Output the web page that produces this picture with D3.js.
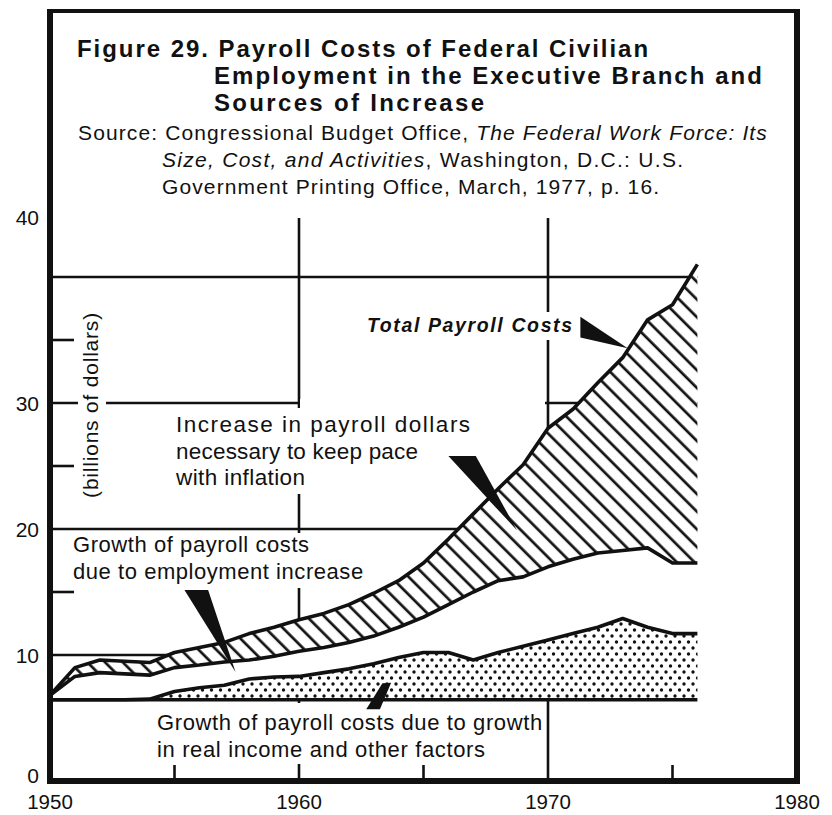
<!DOCTYPE html>
<html>
<head>
<meta charset="utf-8">
<script src="https://cdn.jsdelivr.net/npm/d3@7"></script>
<style>
  html, body { margin: 0; padding: 0; background: #fff; }
  svg { display: block; }
  text { font-family: 'Liberation Sans', Arial, Helvetica, sans-serif; fill: #111; }
</style>
</head>
<body>
<script>
// Payroll costs of federal civilian employment, executive branch (billions of dollars)
const years = d3.range(1950, 1977);
// top line: total payroll costs
const totalPayroll = [6.8, 9.0, 9.6, 9.5, 9.4, 10.2, 10.6, 11.0, 11.7, 12.2, 12.8, 13.3, 14.0, 14.9, 15.9,
    17.3, 19.2, 21.2, 23.2, 25.1, 28.0, 29.5, 31.6, 33.6, 36.6, 37.8, 41.0];
// lower edge of the inflation band (total less the inflation increase)
const withoutInflation = [6.8, 8.3, 8.6, 8.5, 8.4, 9.0, 9.2, 9.45, 9.6, 9.9, 10.3, 10.6, 11.0, 11.5, 12.2,
    13.0, 14.0, 15.0, 15.9, 16.2, 17.0, 17.6, 18.1, 18.3, 18.5, 17.3, 17.3];
// 1950 level plus growth due to real income and other factors
const realIncomeLevel = [6.45, 6.45, 6.45, 6.45, 6.5, 7.1, 7.4, 7.6, 8.1, 8.25, 8.3, 8.6, 8.9, 9.3, 9.8,
    10.2, 10.2, 9.6, 10.2, 10.7, 11.2, 11.7, 12.2, 12.9, 12.2, 11.7, 11.7];
const baseLevel = 6.45;

const yTickValues = [0, 10, 20, 30];
const yTopLabel = '40';
const xTickValues = [1950, 1960, 1970, 1980];
const xMinorTicks = [1955, 1965, 1975];
const yMinorTicks = [15, 25, 35];
const gridValues = [10, 20, 30, 40];
const gridYears = [1960, 1970];

const rows = years.map((year, i) => ({
    year,
    total: totalPayroll[i],
    lower: withoutInflation[i],
    real: realIncomeLevel[i]
}));

const W = 832, H = 815;
const plotTop = 218;
const x = d3.scaleLinear().domain([1950, 1980]).range([50, 797]);
const y = d3.scaleLinear().domain([0, 40]).range([781, 277]);

const svg = d3.select('body').append('svg')
    .attr('width', W)
    .attr('height', H);

svg.append('rect').attr('width', W).attr('height', H).attr('fill', '#fff');

const defs = svg.append('defs');
defs.append('pattern')
    .attr('id', 'hatch')
    .attr('patternUnits', 'userSpaceOnUse')
    .attr('width', 12.5)
    .attr('height', 12.5)
    .attr('patternTransform', 'rotate(-45)')
    .append('line')
    .attr('x1', 6).attr('x2', 6)
    .attr('y1', -1).attr('y2', 14)
    .attr('stroke', '#111')
    .attr('stroke-width', 2.7);

const dots = defs.append('pattern')
    .attr('id', 'dots')
    .attr('patternUnits', 'userSpaceOnUse')
    .attr('width', 9)
    .attr('height', 12);
[[0, 0], [9, 0], [0, 12], [9, 12], [4.5, 6]].forEach(([cx, cy]) => {
    dots.append('circle').attr('cx', cx).attr('cy', cy).attr('r', 1.7).attr('fill', '#111');
});

// letter-spacing so each line spans the same width as in the source figure
function fit(sel, width) {
    sel.each(function () {
        const n = this.getNumberOfChars();
        const len = this.getComputedTextLength();
        if (n > 1) d3.select(this).attr('letter-spacing', ((width - len) / (n - 1)).toFixed(2));
    });
}

// --- grid ---
const grid = svg.append('g').attr('stroke', '#111').attr('stroke-width', 2.6);
grid.selectAll('.hgrid')
    .data(gridValues)
    .join('line')
    .attr('x1', x(1950)).attr('x2', x(1976))
    .attr('y1', d => y(d)).attr('y2', d => y(d));
grid.selectAll('.vgrid')
    .data(gridYears)
    .join('line')
    .attr('x1', d => x(d)).attr('x2', d => x(d))
    .attr('y1', plotTop).attr('y2', y(0));
grid.selectAll('.xminor')
    .data(xMinorTicks)
    .join('line')
    .attr('x1', d => x(d)).attr('x2', d => x(d))
    .attr('y1', y(0) - 16).attr('y2', y(0));
grid.selectAll('.yminor')
    .data(yMinorTicks)
    .join('line')
    .attr('x1', x(1950)).attr('x2', x(1950) + 24)
    .attr('y1', d => y(d)).attr('y2', d => y(d));

// --- areas ---
const area = d3.area().x(d => x(d.year));
svg.append('path')
    .datum(rows)
    .attr('fill', '#fff')
    .attr('d', area.y0(y(baseLevel)).y1(d => y(d.total)));
svg.append('path')
    .datum(rows)
    .attr('fill', 'url(#hatch)')
    .attr('d', area.y0(d => y(d.lower)).y1(d => y(d.total)));
svg.append('path')
    .datum(rows)
    .attr('fill', 'url(#dots)')
    .attr('d', area.y0(y(baseLevel)).y1(d => y(d.real)));

// white boxes behind the annotation texts
const knockouts = [
    [78, 308, 28, 194],     // (billions of dollars)
    [362, 312, 215, 28],    // Total Payroll Costs
    [172, 408, 300, 86],    // Increase in payroll dollars ...
    [300, 399, 245, 12],
    [68, 533, 300, 55],     // Growth of payroll costs / due to employment increase
    [152, 703, 394, 61]     // Growth of payroll costs due to growth ...
];
svg.append('g').selectAll('rect')
    .data(knockouts)
    .join('rect')
    .attr('x', d => d[0]).attr('y', d => d[1])
    .attr('width', d => d[2]).attr('height', d => d[3])
    .attr('fill', '#fff');

// --- curves ---
const curve = key => d3.line().x(d => x(d.year)).y(d => y(d[key]));
const lines = svg.append('g')
    .attr('fill', 'none')
    .attr('stroke', '#111')
    .attr('stroke-width', 3.6)
    .attr('stroke-linejoin', 'round');
['total', 'lower', 'real'].forEach(k => {
    lines.append('path').datum(rows).attr('d', curve(k));
});
lines.append('line')
    .attr('x1', x(1950)).attr('x2', x(1976))
    .attr('y1', y(baseLevel)).attr('y2', y(baseLevel));

// --- pointer wedges (year, value) ---
const pointers = [
    [[1971.3, 36.85], [1973.2, 34.35], [1971.3, 35.2]],
    [[1966.0, 25.8], [1967.1, 25.8], [1968.75, 19.9]],
    [[1955.4, 15.15], [1956.35, 15.15], [1957.45, 8.65]],
    [[1962.7, 5.7], [1963.25, 5.7], [1963.7, 7.8], [1963.35, 7.75]]
];
svg.append('g').selectAll('polygon')
    .data(pointers)
    .join('polygon')
    .attr('points', d => d.map(p => [x(p[0]), y(p[1])].join(',')).join(' '))
    .attr('fill', '#111');

// --- annotation texts ---
const notes = [
    { lines: ['Total Payroll Costs'], x: 367, y: 332, size: 19.5, widths: [205], weight: 'bold', style: 'italic' },
    { lines: ['Increase in payroll dollars', 'necessary to keep pace', 'with inflation'], x: 176, y: 432, size: 22.5, widths: [294, 242, 129] },
    { lines: ['Growth of payroll costs', 'due to employment increase'], x: 73, y: 552, size: 22, widths: [236, 290] },
    { lines: ['Growth of payroll costs due to growth', 'in real income and other factors'], x: 157, y: 730, size: 22, widths: [385, 328] }
];
notes.forEach(n => {
    n.lines.forEach((s, i) => {
        svg.append('text')
            .attr('x', n.x)
            .attr('y', n.y + i * 26.5)
            .attr('font-size', n.size)
            .attr('font-weight', n.weight || 'normal')
            .attr('font-style', n.style || 'normal')
            .text(s)
            .call(fit, n.widths[i]);
    });
});

svg.append('text')
    .attr('transform', 'translate(98,405) rotate(-90)')
    .attr('text-anchor', 'middle')
    .attr('font-size', 21)
    .text('(billions of dollars)')
    .call(fit, 185);

// --- frame / axes ---
const frame = svg.append('g').attr('stroke', '#111');
frame.append('line').attr('x1', x(1950)).attr('x2', x(1950)).attr('y1', 9).attr('y2', y(0) + 3).attr('stroke-width', 6);
frame.append('line').attr('x1', x(1950) - 3).attr('x2', x(1980) + 3).attr('y1', y(0)).attr('y2', y(0)).attr('stroke-width', 6);
frame.append('line').attr('x1', x(1980)).attr('x2', x(1980)).attr('y1', 9).attr('y2', y(0) + 3).attr('stroke-width', 6);
frame.append('line').attr('x1', x(1950) - 3).attr('x2', x(1980) + 3).attr('y1', 11).attr('y2', 11).attr('stroke-width', 4);

// tick labels
svg.append('g').selectAll('text')
    .data(yTickValues)
    .join('text')
    .attr('x', 39)
    .attr('y', d => Math.min(y(d), y(0) - 6))
    .attr('dy', '0.36em')
    .attr('text-anchor', 'end')
    .attr('font-size', 21)
    .text(d => d);
svg.append('text')
    .attr('x', 39)
    .attr('y', plotTop - 1)
    .attr('dy', '0.36em')
    .attr('text-anchor', 'end')
    .attr('font-size', 21)
    .text(yTopLabel);
svg.append('g').selectAll('text')
    .data(xTickValues)
    .join('text')
    .attr('x', d => x(d))
    .attr('y', 809)
    .attr('text-anchor', 'middle')
    .attr('font-size', 20.5)
    .text(d => d);

// --- title block ---
const titleLines = [
    { text: 'Figure 29. Payroll Costs of Federal Civilian', x: 77, y: 57, w: 571 },
    { text: 'Employment in the Executive Branch and', x: 214, y: 84, w: 548 },
    { text: 'Sources of Increase', x: 214, y: 111, w: 270 }
];
titleLines.forEach(t => {
    svg.append('text')
        .attr('x', t.x).attr('y', t.y)
        .attr('font-size', 24)
        .attr('font-weight', 'bold')
        .text(t.text)
        .call(fit, t.w);
});

const sourceLines = [
    { parts: [['Source: Congressional Budget Office, ', 'normal'], ['The Federal Work Force: Its', 'italic']], x: 78, y: 140, w: 689 },
    { parts: [['Size, Cost, and Activities', 'italic'], [', Washington, D.C.: U.S.', 'normal']], x: 162, y: 167, w: 521 },
    { parts: [['Government Printing Office, March, 1977, p. 16.', 'normal']], x: 162, y: 194, w: 497 }
];
sourceLines.forEach(s => {
    const t = svg.append('text')
        .attr('x', s.x).attr('y', s.y)
        .attr('font-size', 21);
    s.parts.forEach(p => t.append('tspan').attr('font-style', p[1]).text(p[0]));
    t.call(fit, s.w);
});
</script>
</body>
</html>
